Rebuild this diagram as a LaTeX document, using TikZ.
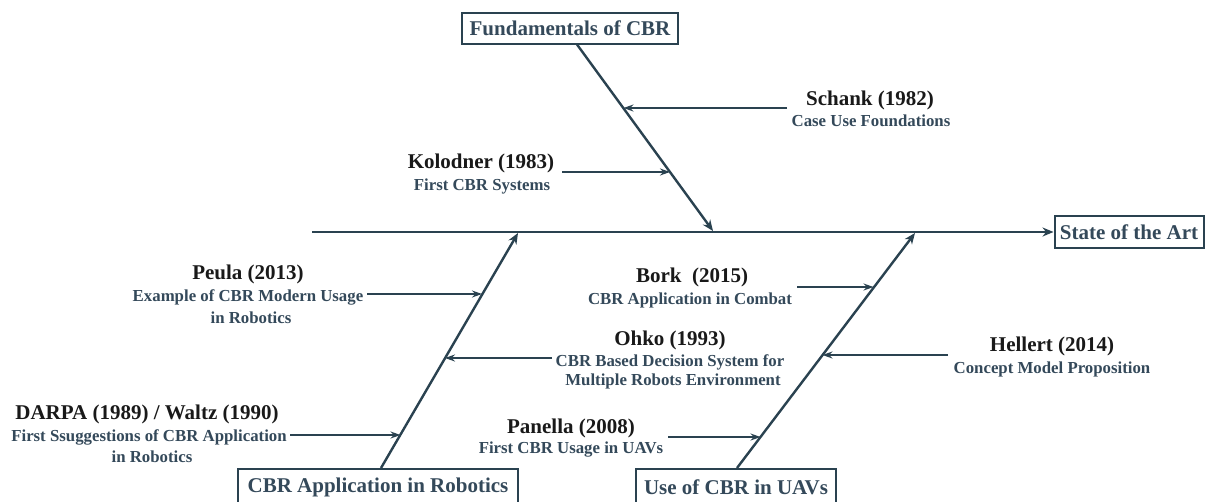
\documentclass[tikz,border=0pt]{standalone}
\usepackage{fontspec}
\setmainfont{Liberation Serif}
\usetikzlibrary{arrows.meta}
\definecolor{slate}{HTML}{2A4250}
\definecolor{subc}{HTML}{34495A}
\begin{document}
\begin{tikzpicture}[x=1pt,y=-1pt,
  ttl/.style={inner sep=0pt,font=\fontsize{21}{23}\selectfont\bfseries,text=black!90},
  sub/.style={inner sep=0pt,font=\fontsize{16.8}{18}\selectfont\bfseries,text=subc},
  boxnode/.style={draw=slate,line width=2pt,fill=white,inner xsep=4pt,inner ysep=4pt,
    font=\fontsize{21}{23}\selectfont\bfseries,text=subc},
  bone/.style={draw=slate,line width=2.4pt,-{Stealth[length=11pt,width=9pt]}},
  rib/.style={draw=slate,line width=1.5pt,-{Stealth[length=10pt,width=7pt]}}]
\useasboundingbox[fill=white] (0,0) rectangle (1206,501);
\clip (0,0) rectangle (1206,501);
% boxes
\node[boxnode,minimum width=216pt,minimum height=31pt] (fund) at (570,28) {Fundamentals of CBR};
\node[boxnode,minimum width=149pt,minimum height=32pt] (state) at (1129,232) {State of the Art};
\node[boxnode,minimum width=280pt,minimum height=36pt,anchor=north] (robo) at (378,468) {CBR Application in Robotics};
\node[boxnode,minimum width=200pt,minimum height=36pt,anchor=north] (uav) at (736,468) {Use of CBR in UAVs};
% spine
\coordinate (spstart) at (312,232);
\draw[bone] (spstart) -- (state.west);
% branch junctions
\coordinate (j1) at (713,231);
\coordinate (j2) at (518,233);
\coordinate (j3) at (915,233);
\coordinate (f0) at ([xshift=7pt]fund.south);
\draw[bone] (f0) -- (j1);
\draw[bone] ([xshift=3pt]robo.north) -- (j2);
\draw[bone] ([xshift=1pt]uav.north) -- (j3);
% texts
\node[ttl] (schT) at (870,100) {Schank (1982)};
\node[sub] (schS) at (871,121) {Case Use Foundations};
\node[ttl] (kolT) at (481,163) {Kolodner (1983)};
\node[sub] (kolS) at (482,186) {First CBR Systems};
\node[ttl] (peuT) at (248,274) {Peula (2013)};
\node[sub] (peuS) at (248,297) {Example of CBR Modern Usage};
\node[sub] (peuS2) at (251,318) {in Robotics};
\node[ttl] (darT) at (147,414) {DARPA (1989) / Waltz (1990)};
\node[sub] (darS) at (149,437) {First Ssuggestions of CBR Application};
\node[sub] (darS2) at (152,457) {in Robotics};
\node[ttl] (borT) at (692,277) {Bork\ \ (2015)};
\node[sub] (borS) at (690,300) {CBR Application in Combat};
\node[ttl] (ohkT) at (670,340) {Ohko (1993)};
\node[sub] (ohkS) at (670,362) {CBR Based Decision System for};
\node[sub] (ohkS2) at (673,381) {Multiple Robots Environment};
\node[ttl] (helT) at (1052,346) {Hellert (2014)};
\node[sub] (helS) at (1052,369) {Concept Model Proposition};
\node[ttl] (panT) at (571,428) {Panella (2008)};
\node[sub] (panS) at (571,450) {First CBR Usage in UAVs};
% rib coordinates
\coordinate (a1s) at (787,108); \coordinate (a1e) at (623.5,108);
\coordinate (a2s) at (562,172); \coordinate (a2e) at (670,172);
\coordinate (a3s) at (367,294); \coordinate (a3e) at (482,294);
\coordinate (a4s) at (552,358); \coordinate (a4e) at (445,358);
\coordinate (a5s) at (290,435); \coordinate (a5e) at (400.5,435);
\coordinate (a6s) at (797,287); \coordinate (a6e) at (873.5,287);
\coordinate (a7s) at (948,355); \coordinate (a7e) at (822.5,355);
\coordinate (a8s) at (668,437); \coordinate (a8e) at (760.5,437);
\draw[rib] (a1s) -- (a1e);
\draw[rib] (a2s) -- (a2e);
\draw[rib] (a3s) -- (a3e);
\draw[rib] (a4s) -- (a4e);
\draw[rib] (a5s) -- (a5e);
\draw[rib] (a6s) -- (a6e);
\draw[rib] (a7s) -- (a7e);
\draw[rib] (a8s) -- (a8e);
\end{tikzpicture}
\end{document}
